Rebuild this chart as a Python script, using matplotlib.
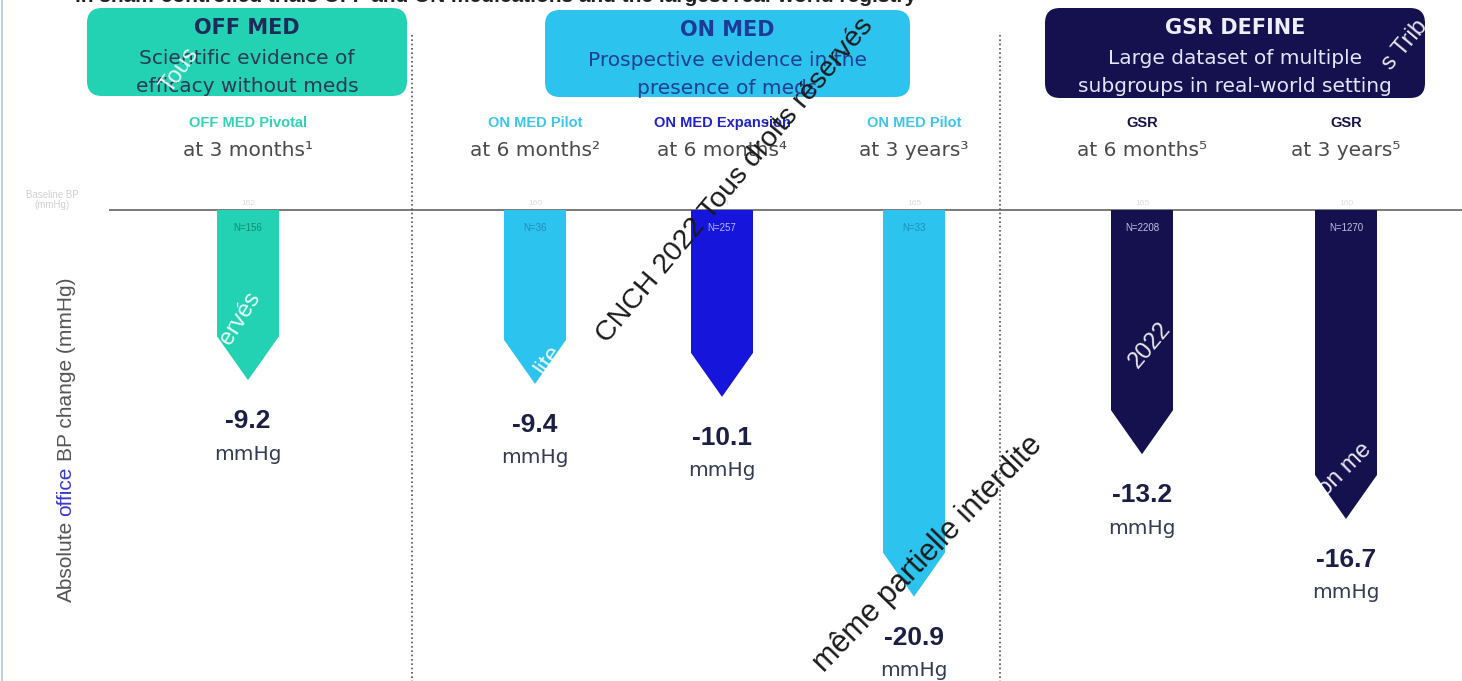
import matplotlib.pyplot as plt
from matplotlib.patches import Polygon, FancyBboxPatch

plt.rcParams['font.family'] = ['Liberation Sans', 'DejaVu Sans']
WIDE = ['DejaVu Sans']

# Data
study_names = ["OFF MED Pivotal", "ON MED Pilot", "ON MED Expansion",
               "ON MED Pilot", "GSR", "GSR"]
time_points = ["at 3 months¹", "at 6 months²", "at 6 months⁴",
               "at 3 years³", "at 6 months⁵", "at 3 years⁵"]
bp_change = [-9.2, -9.4, -10.1, -20.9, -13.2, -16.7]
n_patients = [156, 36, 257, 33, 2208, 1270]
baseline_bp = [162, 160, 164, 165, 165, 160]

group_titles = ["OFF MED", "ON MED", "GSR DEFINE"]
group_text = [["Scientific evidence of", "efficacy without meds"],
              ["Prospective evidence in the", "presence of meds"],
              ["Large dataset of multiple", "subgroups in real-world setting"]]

# Layout / style
W, H = 1462, 681
PX_PER_MMHG = 18.5
BASE_PX = 210
x_centers = [248, 535, 722, 914, 1142, 1346]
bar_w = 62
head_px = 44

TEAL = '#22d2b3'
LBLUE = '#2cc3ee'
BLUE = '#1515dc'
NAVY = '#15114f'
bar_colors = [TEAL, LBLUE, BLUE, LBLUE, NAVY, NAVY]
name_colors = ['#2fd4b8', '#3cc6ee', '#2222cc', '#3cc6ee', '#15114f', '#15114f']
n_colors = ['#128a74', '#1c8dbd', '#b8b8ff', '#1c8dbd', '#c0c0ea', '#c0c0ea']

boxes = [(87, 8, 320, 88), (545, 10, 365, 87), (1045, 8, 380, 90)]
box_colors = [TEAL, LBLUE, NAVY]
title_colors = ['#1d2a5a', '#1c3a98', '#eeeeff']
body_colors = ['#2b3a52', '#1f3f90', '#e4e4fb']

fig = plt.figure(figsize=(W / 100, H / 100), dpi=100)
fig.patch.set_facecolor('white')

# data axes: x in slide pixels, y in mmHg
ax = fig.add_axes([0, 0, 1, 1])
ax.set_xlim(0, W)
ax.set_ylim(-(H - BASE_PX) / PX_PER_MMHG, BASE_PX / PX_PER_MMHG)
ax.axis('off')

# overlay axes in pixel coordinates for the slide decorations
ax2 = fig.add_axes([0, 0, 1, 1], zorder=3)
ax2.set_xlim(0, W)
ax2.set_ylim(H, 0)
ax2.axis('off')
ax2.patch.set_alpha(0)

# baseline
ax.plot([110, W], [0, 0], color='#7a7a7a', lw=1.4, zorder=1)
# slide border
ax2.plot([2, 2], [0, H], color='#a9cbe8', lw=1.2)

# separators
for xs in [412, 1000]:
    ax2.plot([xs, xs], [35, H], color='#555555', lw=1.2, ls=(0, (1, 1.6)))

head = head_px / PX_PER_MMHG
for xc, v, col, n, bb, ncol in zip(x_centers, bp_change, bar_colors,
                                   n_patients, baseline_bp, n_colors):
    hw = bar_w / 2
    pts = [(xc - hw, 0), (xc + hw, 0), (xc + hw, v + head), (xc, v), (xc - hw, v + head)]
    ax.add_patch(Polygon(pts, closed=True, facecolor=col, edgecolor='none', zorder=2))
    ax.text(xc, -18 / PX_PER_MMHG, f"N={n}", ha='center', va='center',
            fontsize=7, color=ncol, zorder=3)
    ax.text(xc, 6 / PX_PER_MMHG, str(bb), ha='center', va='center',
            fontsize=6, color='#dcdcdc', zorder=3)
    ax.annotate(f"{v:.1f}", (xc, v), xytext=(0, -41), textcoords='offset pixels',
                ha='center', va='center', fontsize=19, fontweight='bold',
                color='#1c1f45')
    ax.annotate("mmHg", (xc, v), xytext=(0, -74), textcoords='offset pixels',
                ha='center', va='center', fontsize=14.5, color='#363b55',
                family=WIDE)

# study names and time points
for xc, nm, tp, nc in zip(x_centers, study_names, time_points, name_colors):
    ax2.text(xc, 123, nm, ha='center', va='center', fontsize=10.5,
             fontweight='bold', color=nc)
    ax2.text(xc, 151, tp, ha='center', va='center', fontsize=14.5, color='#4a4a4a',
             family=WIDE)

# group header boxes
for (bx, by, bw, bh), fc, tt, body, tc, bc in zip(boxes, box_colors, group_titles,
                                                  group_text, title_colors, body_colors):
    ax2.add_patch(FancyBboxPatch((bx, by), bw, bh,
                                 boxstyle="round,pad=0,rounding_size=15",
                                 facecolor=fc, edgecolor='none', zorder=1))
    cx = bx + bw / 2
    ax2.text(cx, by + 20, tt, ha='center', va='center', fontsize=15,
             fontweight='bold', color=tc, zorder=2, family=WIDE)
    for k, line in enumerate(body):
        ax2.text(cx, by + 50 + 28 * k, line, ha='center', va='center',
                 fontsize=14.5, color=bc, zorder=2, family=WIDE)

# baseline caption
ax2.text(52, 200, "Baseline BP\n(mmHg)", ha='center', va='center', fontsize=7,
         color='#d0d0d0', linespacing=1.1)

# clipped slide title at the very top
ax2.text(510, -4, "in sham-controlled trials OFF and ON medications and the largest real-world registry¹⁻⁵",
         ha='center', va='center', fontsize=15, fontweight='bold', color='#222222')

# y label with a coloured word
renderer = fig.canvas.get_renderer()
ylab_parts = [("Absolute", '#555555'), ("office", '#3838d0'), ("BP change (mmHg)", '#555555')]
y_disp = H - 602
for txt, col in ylab_parts:
    t = fig.text(66 / W, y_disp / H, txt, rotation=90, ha='center', va='bottom',
                 fontsize=15, color=col)
    bb = t.get_window_extent(renderer)
    y_disp = bb.y1 + 5

# watermarks
fig.text(735 / W, 1 - 180 / H, "CNCH 2022 Tous droits réservés", rotation=50,
         ha='center', va='center', fontsize=20.5, color='#1a1a1a', zorder=5,
         rotation_mode='anchor')
fig.text(1038 / W, 1 - 440 / H, "même partielle interdite", rotation=46,
         ha='right', va='center', fontsize=22, color='#1a1a1a', zorder=5,
         rotation_mode='anchor')
white_marks = [("Tous", 180, 70, 55), ("ervés", 240, 318, 58), ("lite", 548, 360, 55),
               ("2022", 1150, 345, 50), ("on me", 1345, 470, 45), ("s Trib", 1405, 45, 50)]
for txt, wx, wy, rot in white_marks:
    fig.text(wx / W, 1 - wy / H, txt, rotation=rot, ha='center', va='center',
             fontsize=17, color='white', alpha=0.9, zorder=5)

fig.savefig("out.png", dpi=100)
